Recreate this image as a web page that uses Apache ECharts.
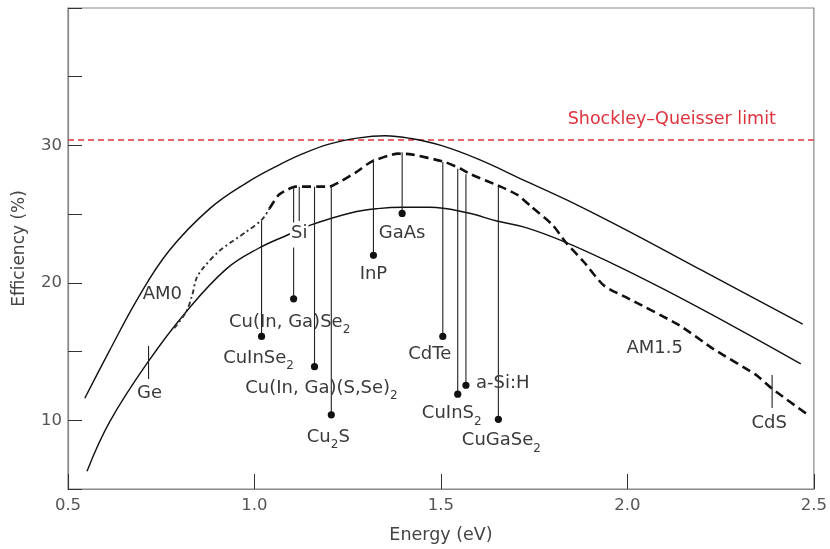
<!DOCTYPE html>
<html>
<head>
<meta charset="utf-8">
<script src="https://cdn.jsdelivr.net/npm/echarts@6/dist/echarts.min.js"></script>
<style>
  html, body { margin: 0; padding: 0; background: #fff; }
  #chart { width: 830px; height: 549px; }
</style>
</head>
<body>
<div id="chart"></div>
<script>
// Detailed-balance efficiency vs. band gap energy
const energyTicks = [0.5, 1.0, 1.5, 2.0, 2.5];
const effTickLabels = [10, 20, 30];

// AM0 spectrum limit [eV, %]
const am0 = [[0.545,11.6],[0.61,15.0],[0.69,19.0],[0.77,22.3],[0.88,25.4],[0.98,27.3],[1.06,28.5],
  [1.13,29.4],[1.2,30.1],[1.28,30.55],[1.35,30.7],[1.42,30.5],[1.5,30.0],[1.6,29.0],[1.72,27.5],
  [1.84,26.0],[2.0,23.8],[2.2,20.9],[2.47,17.0]];

// AM1.5 smooth approximation [eV, %]
const am15Smooth = [[0.551,6.3],[0.612,9.9],[0.716,14.3],[0.817,17.9],[0.924,21.0],[1.01,22.5],
  [1.09,23.5],[1.15,24.2],[1.26,25.1],[1.33,25.4],[1.4,25.5],[1.47,25.5],[1.57,25.1],[1.65,24.5],
  [1.73,24.0],[1.83,23.0],[1.96,21.4],[2.1,19.5],[2.3,16.6],[2.465,14.1]];

// AM1.5 measured spectrum, low-gap part [eV, %]
const am15Low = [[0.785,16.7],[0.817,17.9],[0.833,19.1],[0.844,20.3],[0.86,21.0],[0.905,22.3],
  [0.977,23.7],[1.02,24.6],[1.04,25.4]];

// AM1.5 measured spectrum, remainder [eV, %]
const am15High = [[1.04,25.4],[1.065,26.4],[1.09,26.8],[1.11,27.0],[1.2,27.0],[1.225,27.3],
  [1.27,28.0],[1.313,28.8],[1.385,29.4],[1.42,29.35],[1.51,28.8],[1.553,28.3],[1.58,27.9],
  [1.66,27.0],[1.705,26.4],[1.74,25.6],[1.8,24.2],[1.833,23.0],[1.884,21.5],[1.937,19.8],
  [2.007,18.8],[2.14,16.9],[2.23,15.2],[2.345,13.3],[2.388,12.3],[2.484,10.4]];

const sqLimit = 30.4;

// Materials: band gap, top of marker line, end of marker line (record efficiency where dotted)
const materialNames = ['Ge', 'CuInSe2', 'Cu(In, Ga)Se2', 'Si', 'Cu(In, Ga)(S,Se)2', 'Cu2S', 'InP',
  'GaAs', 'CdTe', 'CuInS2', 'a-Si:H', 'CuGaSe2', 'CdS'];
const bandGap   = [0.716, 1.019, 1.105, 1.12, 1.161, 1.206, 1.319, 1.396, 1.505, 1.545, 1.567, 1.654, 2.388];
const markerTop = [15.4, 24.5, 27.0, 27.0, 27.0, 27.0, 29.0, 29.5, 28.8, 28.3, 27.9, 27.0, 13.3];
const markerEnd = [13.0, 16.1, 18.84, 24.5, 13.9, 10.4, 22.0, 25.05, 16.1, 11.9, 12.55, 10.07, 10.9];
const recordDot = [false, true, true, false, true, true, true, true, true, true, true, true, false];

// Curve captions
const curveNames = ['AM0', 'AM1.5', 'Shockley–Queisser limit'];
const curveAnchors = [[0.753, 19.2], [2.073, 15.2], [2.119, 31.9]];

// ---- styling ----
const FONT = 'DejaVu Sans';
const TEXT = '#3a3a3a';
const RED = '#de333d';
// pixel offset of each material caption from the end of its marker
const labelOffset = [[1,17],[-3,24],[-4,26],[0,14],[7,24],[-3,25],[0,21],[0,22],[-13,20],[-6,22],[10,1],[3,24],[-3,18]];
const labelAlign = ['center','center','center','center','center','center','center','center','center','center','left','center','center'];
const captionColor = [TEXT, TEXT, RED];
const captionSize = [18, 18, 17.5];

function richName(name) {
  // formula digits are drawn as subscripts
  const map = {
    'CuInSe2': '{n|CuInSe}{s|2}',
    'Cu(In, Ga)Se2': '{n|Cu(In, Ga)Se}{s|2}',
    'Cu(In, Ga)(S,Se)2': '{n|Cu(In, Ga)(S,Se)}{s|2}',
    'Cu2S': '{n|Cu}{s|2}{n|S}',
    'CuInS2': '{n|CuInS}{s|2}',
    'CuGaSe2': '{n|CuGaSe}{s|2}'
  };
  return map[name] || '{n|' + name + '}';
}
const richStyles = {
  n: { fontSize: 18, fontFamily: FONT, fill: TEXT, verticalAlign: 'bottom', padding: [0,0,5,0] },
  s: { fontSize: 12, fontFamily: FONT, fill: TEXT, verticalAlign: 'bottom' }
};

const chart = echarts.init(document.getElementById('chart'), null, { renderer: 'canvas' });

const option = {
  animation: false,
  backgroundColor: '#fff',
  grid: { left: 68, right: 12, top: 8, bottom: 58, show: true, borderColor: '#888', borderWidth: 1.2 },
  xAxis: {
    type: 'value', min: 0.5, max: 2.5, interval: 0.5,
    name: 'Energy (eV)', nameLocation: 'middle', nameGap: 37,
    nameTextStyle: { fontFamily: FONT, fontSize: 17.5, color: '#444' },
    axisLine: { show: true, lineStyle: { color: '#888', width: 1.2 } },
    axisTick: { show: true, inside: true, length: 15, lineStyle: { color: '#333' } },
    axisLabel: { fontFamily: FONT, fontSize: 16.5, color: '#555', margin: 8,
      formatter: v => energyTicks.includes(+v.toFixed(1)) ? v.toFixed(1) : '' },
    splitLine: { show: false }
  },
  yAxis: {
    type: 'value', min: 5, max: 40, interval: 5,
    name: 'Efficiency (%)', nameLocation: 'middle', nameGap: 40,
    nameTextStyle: { fontFamily: FONT, fontSize: 17, color: '#444' },
    axisLine: { show: true, lineStyle: { color: '#888', width: 1.2 } },
    axisTick: { show: true, inside: true, length: 14, lineStyle: { color: '#333' } },
    axisLabel: { fontFamily: FONT, fontSize: 16.5, color: '#555', margin: 6,
      formatter: v => effTickLabels.includes(v) ? String(v) : '' },
    splitLine: { show: false }
  },
  series: [
    {
      name: 'SQ', type: 'line', data: [[0.5, sqLimit], [2.5, sqLimit]], symbol: 'none',
      lineStyle: { color: RED, width: 1.6, type: [6, 4] }, z: 2
    },
    {
      name: 'AM0', type: 'line', data: am0, symbol: 'none', smooth: 0.4,
      lineStyle: { color: '#111', width: 1.4 }
    },
    {
      name: 'AM1.5 smooth', type: 'line', data: am15Smooth, symbol: 'none', smooth: 0.4,
      lineStyle: { color: '#111', width: 1.4 }
    },
    {
      name: 'AM1.5 low', type: 'line', data: am15Low, symbol: 'none', smooth: 0.3,
      lineStyle: { color: '#333', width: 1.9, type: [5, 3, 2, 3] }
    },
    {
      name: 'AM1.5', type: 'line', data: am15High, symbol: 'none', smooth: 0.2,
      lineStyle: { color: '#111', width: 2.6, type: [9, 5] }
    },
    {
      name: 'materials', type: 'custom', z: 5,
      data: bandGap.map((e, i) => [e, markerTop[i], markerEnd[i], i]),
      encode: { x: 0, y: [1, 2] },
      renderItem: function (params, api) {
        const i = api.value(3);
        const p1 = api.coord([api.value(0), api.value(1)]);
        const p2 = api.coord([api.value(0), api.value(2)]);
        const kids = [{
          type: 'line', shape: { x1: p1[0], y1: p1[1], x2: p2[0], y2: p2[1] },
          style: { stroke: '#222', lineWidth: 1.1 }
        }];
        if (recordDot[i]) {
          kids.push({ type: 'circle', shape: { cx: p2[0], cy: p2[1], r: 3.6 }, style: { fill: '#111' } });
        }
        const off = labelOffset[i];
        const isSi = materialNames[i] === 'Si';
        kids.push({
          type: 'text', z2: 10,
          x: p2[0] + off[0], y: p2[1] + off[1],
          style: {
            text: richName(materialNames[i]), rich: richStyles,
            align: labelAlign[i], verticalAlign: 'middle',
            backgroundColor: isSi ? '#fff' : null, padding: isSi ? [2, 1, 0, 1] : 0
          }
        });
        return { type: 'group', children: kids };
      }
    },
    {
      name: 'captions', type: 'custom', z: 6,
      data: curveAnchors.map((p, i) => [p[0], p[1], i]),
      encode: { x: 0, y: 1 },
      renderItem: function (params, api) {
        const i = api.value(2);
        const p = api.coord([api.value(0), api.value(1)]);
        return {
          type: 'text', x: p[0], y: p[1],
          style: {
            text: curveNames[i], fill: captionColor[i],
            font: captionSize[i] + 'px "' + FONT + '"',
            align: 'center', verticalAlign: 'middle'
          }
        };
      }
    }
  ]
};

chart.setOption(option);
</script>
</body>
</html>
